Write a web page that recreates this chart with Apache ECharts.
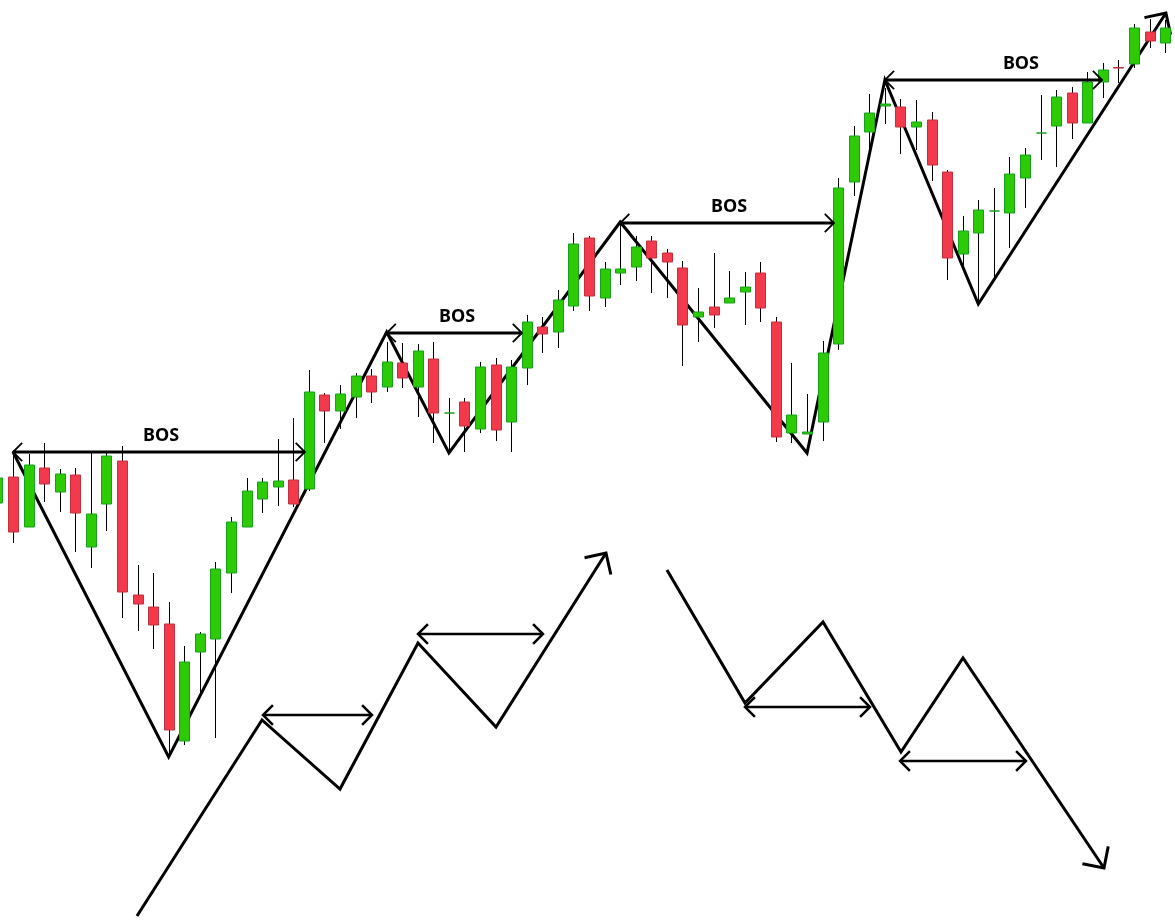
<!DOCTYPE html>
<html><head><meta charset="utf-8">
<script src="https://cdn.jsdelivr.net/npm/echarts@6/dist/echarts.min.js"></script>
<style>html,body{margin:0;padding:0;background:#fff}#c{width:1175px;height:920px}</style>
</head><body><div id="c"></div>
<script>
// ---- candle data (price units) ----
const opens  = [417,443,393,452,428,445,373,416,459,325,313,296,179,268,281,347,393,421,433,440,431,525,509,523,544,533,557,533,561,507,518,491,555,498,552,593,588,614,682,622,647,653,679,667,652,603,613,617,628,647,598,487,486,498,576,738,788,814,813,793,800,748,666,687,709,707,742,787,794,827,797,838,852.4,856,888,877];
const closes = [442,388,455,436,446,407,406,464,328,316,295,190,258,286,351,398,429,438,439,416,528,509,526,544,528,558,542,569,507,507,494,553,490,553,598,586,620,676,624,651,651,673,662,658,595,608,605,622,633,612,483,505,488,567,732,784,807,816,793,798,755,662,689,710,709,746,765,787,823,797,838,850,852,892,879,892];
const lows   = [415,377,393,418,408,368,352,389,302,289,271,163,175,227,182,327,393,407,414,413,429,477,491,502,517,528,532,503,477,470,468,487,479,468,535,567,572,609,609,613,635,639,627,622,554,578,592,617,595,598,478,477,486,479,570,724,771,796,766,770,739,640,653,618,643,672,712,760,753,781,797,822,837,852,872,867];
const highs  = [444,468,466,477,451,452,467,468,474,355,347,318,274,288,358,403,442,442,481,502,550,527,535,547,551,578,577,576,578,522,522,558,562,560,605,603,630,687,684,658,696,684,684,671,659,632,667,649,648,658,603,557,526,579,742,794,826,832,821,820,808,750,704,720,732,763,772,825,830,833,848,857,860,896,901,900];

// ---- drawings on the candle scale (x = candle index, y = price) ----
const zigzagUpper = [[1,468],[11,163],[25,588],[29,467],[40,698],[52,467],[57,840],[63,616],[75.05,907]];
const bosLevels = [468, 587, 697, 840];
const bosStart  = [1, 25, 40, 57];
const bosEnd    = [19.75, 33.69, 53.73, 70.95];
const bosLabelX = [10.51, 29.52, 46.99, 65.74];
const bosLabels = ['BOS', 'BOS', 'BOS', 'BOS'];

// ---- schematic diagrams (own scale) ----
const schematicUp = [[137,4],[262,200],[340,131],[418,277],[496,193],[606,367]];
const schematicUpRanges = [[263,372,205],[418,543,286]];
const schematicDown = [[667,350],[745,217],[823,298],[901,168],[963,262],[1104,52]];
const schematicDownRanges = [[745,870,213],[900,1026,159]];

const GREEN = '#2ccb06', GREEN_B = '#17a01e';
const RED = '#f23a4c', RED_B = '#c3303d';

function chevron(tip, from, len, ang) {
  let dx = tip[0] - from[0], dy = tip[1] - from[1];
  const m = Math.hypot(dx, dy); dx /= m; dy /= m;
  const arm = (a) => {
    const rx = dx * Math.cos(a) - dy * Math.sin(a);
    const ry = dx * Math.sin(a) + dy * Math.cos(a);
    return [tip[0] - len * rx, tip[1] - len * ry];
  };
  return [arm(ang), tip, arm(-ang)];
}

function polyWithArrow(pts, api, width) {
  const px = pts.map(p => api.coord(p));
  const n = px.length;
  return {
    type: 'group',
    children: [
      { type: 'polyline', shape: { points: px }, style: { stroke: '#000', lineWidth: width, fill: null, lineJoin: 'miter', miterLimit: 4 } },
      { type: 'polyline', shape: { points: chevron(px[n - 1], px[n - 2], 22, Math.PI / 4) }, style: { stroke: '#000', lineWidth: width, fill: null } }
    ]
  };
}

function doubleArrow(a, b, width, headWidth, len) {
  return [
    { type: 'line', shape: { x1: a[0], y1: a[1], x2: b[0], y2: b[1] }, style: { stroke: '#000', lineWidth: width } },
    { type: 'polyline', shape: { points: chevron(a, b, len, Math.PI / 4) }, style: { stroke: '#000', lineWidth: headWidth, fill: null } },
    { type: 'polyline', shape: { points: chevron(b, a, len, Math.PI / 4) }, style: { stroke: '#000', lineWidth: headWidth, fill: null } }
  ];
}

const candleData = opens.map((o, i) => [i, o, closes[i], lows[i], highs[i]]);

const option = {
  animation: false,
  backgroundColor: '#fff',
  grid: [
    { left: 0, right: 0, top: 0, bottom: 0 },
    { left: 0, right: 0, top: 0, bottom: 0 }
  ],
  xAxis: [
    { type: 'value', gridIndex: 0, min: 0.167, max: 75.633, show: false },
    { type: 'value', gridIndex: 1, min: 0, max: 1175, show: false }
  ],
  yAxis: [
    { type: 'value', gridIndex: 0, min: 0, max: 920, show: false },
    { type: 'value', gridIndex: 1, min: 0, max: 920, show: false }
  ],
  series: [
    {
      type: 'custom', name: 'zigzag', xAxisIndex: 0, yAxisIndex: 0, z: 2, clip: false,
      data: zigzagUpper, encode: { x: 0, y: 1 },
      renderItem: (params, api) => params.dataIndex === 0 ? polyWithArrow(zigzagUpper, api, 3) : null
    },
    {
      type: 'custom', name: 'candles', xAxisIndex: 0, yAxisIndex: 0, z: 3, clip: false,
      data: candleData, encode: { x: 0, y: [1, 2, 3, 4] },
      renderItem: (params, api) => {
        const i = api.value(0), o = api.value(1), c = api.value(2), l = api.value(3), h = api.value(4);
        const pO = api.coord([i, o]), pC = api.coord([i, c]);
        const pL = api.coord([i, l]), pH = api.coord([i, h]);
        const w = 10;
        const up = c >= o;
        const cx = Math.round(pO[0]) + 0.5;
        const top = Math.min(pO[1], pC[1]);
        const hgt = Math.abs(pO[1] - pC[1]);
        return {
          type: 'group',
          children: [
            { type: 'line', shape: { x1: cx, y1: pH[1], x2: cx, y2: pL[1] }, style: { stroke: '#000', lineWidth: 1 } },
            { type: 'rect', shape: { x: cx - w / 2, y: top, width: w, height: hgt },
              style: { fill: up ? GREEN : RED, stroke: up ? GREEN_B : RED_B, lineWidth: 1 } }
          ]
        };
      }
    },
    {
      type: 'custom', name: 'bos', xAxisIndex: 0, yAxisIndex: 0, z: 4, clip: false,
      data: bosLevels.map((lv, k) => [bosStart[k], bosEnd[k], lv, bosLabelX[k]]),
      encode: { x: [0, 1], y: 2 },
      renderItem: (params, api) => {
        const lv = api.value(2);
        const a = api.coord([api.value(0), lv]);
        const b = api.coord([api.value(1), lv]);
        const t = api.coord([api.value(3), lv]);
        return {
          type: 'group',
          children: doubleArrow(a, b, 3, 1.8, 13).concat([{
            type: 'text',
            style: { x: t[0], y: t[1] - 16, text: bosLabels[params.dataIndex], fill: '#000',
              fontFamily: '"Noto Sans"', fontWeight: 'bold', fontSize: 18, align: 'center', verticalAlign: 'middle' }
          }])
        };
      }
    },
    {
      type: 'custom', name: 'schematicUp', xAxisIndex: 1, yAxisIndex: 1, z: 2, clip: false,
      data: schematicUp, encode: { x: 0, y: 1 },
      renderItem: (params, api) => params.dataIndex === 0 ? polyWithArrow(schematicUp, api, 3) : null
    },
    {
      type: 'custom', name: 'schematicDown', xAxisIndex: 1, yAxisIndex: 1, z: 2, clip: false,
      data: schematicDown, encode: { x: 0, y: 1 },
      renderItem: (params, api) => params.dataIndex === 0 ? polyWithArrow(schematicDown, api, 3) : null
    },
    {
      type: 'custom', name: 'schematicRanges', xAxisIndex: 1, yAxisIndex: 1, z: 2, clip: false,
      data: schematicUpRanges.concat(schematicDownRanges), encode: { x: [0, 1], y: 2 },
      renderItem: (params, api) => {
        const a = api.coord([api.value(0), api.value(2)]);
        const b = api.coord([api.value(1), api.value(2)]);
        return { type: 'group', children: doubleArrow(a, b, 2.5, 2.5, 14) };
      }
    }
  ]
};

const chart = echarts.init(document.getElementById('c'), null, { renderer: 'canvas' });
chart.setOption(option);
</script>
</body></html>
